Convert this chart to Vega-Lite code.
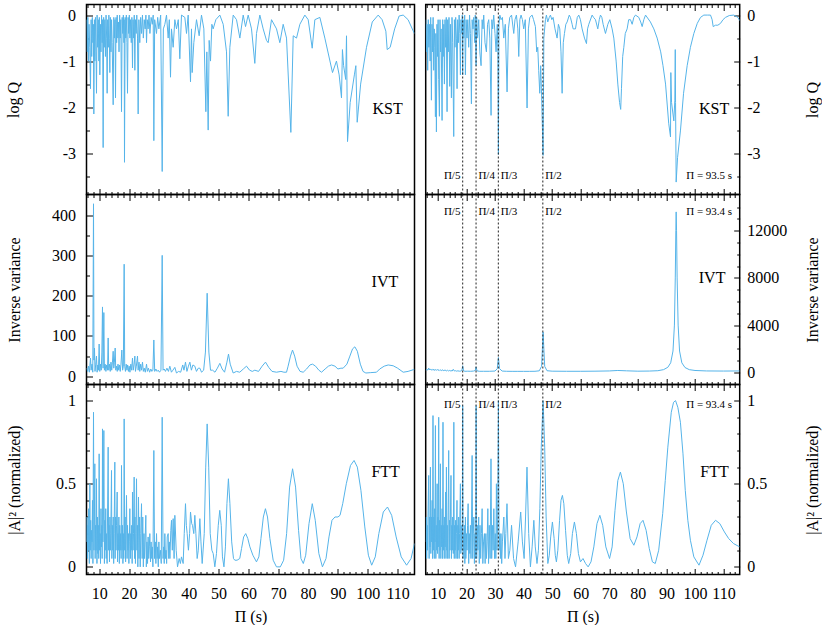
{
"$schema": "https://vega.github.io/schema/vega-lite/v6.json",
"background": "white",
"padding": {"left": 4.5, "top": 2.5, "right": 0, "bottom": 0},
"config": {
  "view": {"stroke": "black", "strokeWidth": 1.5},
  "font": "Liberation Serif",
  "axis": {"labelFont": "Liberation Serif", "titleFont": "Liberation Serif", "labelFontSize": 16, "titleFontSize": 16, "titleFontWeight": "normal", "labelColor": "black", "titleColor": "black", "tickColor": "black", "tickWidth": 1, "domain": false, "grid": false, "minExtent": 0}
},
"datasets": {
"kstL": [{"x":5.8,"y":-0.1},{"x":6.0,"y":-0.8},{"x":6.2,"y":-0.05},{"x":6.4,"y":-1.0},{"x":6.6,"y":-0.2},{"x":6.85,"y":-0.7},{"x":7.09,"y":-1.6},{"x":7.3,"y":-0.1},{"x":7.5,"y":-0.9},{"x":7.7,"y":-0.05},{"x":7.9,"y":-0.6},{"x":8.05,"y":-0.2},{"x":8.21,"y":-2.15},{"x":8.4,"y":-0.1},{"x":8.55,"y":-1.0},{"x":8.75,"y":-0.05},{"x":8.95,"y":-0.8},{"x":9.1,"y":-1.7},{"x":9.3,"y":0},{"x":9.5,"y":-0.7},{"x":9.7,"y":-0.1},{"x":9.9,"y":-1.0},{"x":10.05,"y":-0.05},{"x":10.22,"y":-1.3},{"x":10.4,"y":-0.2},{"x":10.6,"y":-0.8},{"x":10.8,"y":0},{"x":11.0,"y":-0.6},{"x":11.15,"y":-0.1},{"x":11.33,"y":-2.88},{"x":11.5,"y":-0.05},{"x":11.7,"y":-0.7},{"x":11.9,"y":-0.1},{"x":12.1,"y":-0.9},{"x":12.3,"y":0},{"x":12.5,"y":-0.5},{"x":12.67,"y":-1.7},{"x":12.85,"y":-0.1},{"x":13.05,"y":-0.7},{"x":13.25,"y":0},{"x":13.4,"y":-0.5},{"x":13.57,"y":-1.25},{"x":13.75,"y":-0.05},{"x":13.95,"y":-0.8},{"x":14.15,"y":-0.1},{"x":14.35,"y":-0.6},{"x":14.69,"y":-1.95},{"x":14.9,"y":-0.05},{"x":15.1,"y":-0.5},{"x":15.3,"y":-0.1},{"x":15.47,"y":-1.8},{"x":15.65,"y":-0.05},{"x":15.85,"y":-0.6},{"x":16.05,"y":0},{"x":16.25,"y":-0.5},{"x":16.45,"y":-0.15},{"x":16.65,"y":-0.8},{"x":16.85,"y":0},{"x":17.05,"y":-0.5},{"x":17.25,"y":-0.1},{"x":17.48,"y":-2.1},{"x":17.7,"y":-0.05},{"x":17.9,"y":-0.4},{"x":18.1,"y":0},{"x":18.3,"y":-0.6},{"x":18.38,"y":-0.1},{"x":18.48,"y":-3.2},{"x":18.7,"y":-0.05},{"x":18.9,"y":-0.5},{"x":19.1,"y":0},{"x":19.3,"y":-0.6},{"x":19.49,"y":-1.7},{"x":19.7,"y":-0.05},{"x":19.9,"y":-0.4},{"x":20.1,"y":0},{"x":20.3,"y":-0.5},{"x":20.5,"y":-0.1},{"x":20.75,"y":-0.6},{"x":20.95,"y":-0.05},{"x":21.16,"y":-1.15},{"x":21.35,"y":-0.1},{"x":21.55,"y":-0.5},{"x":21.75,"y":0},{"x":21.95,"y":-1.2},{"x":22.15,"y":-0.1},{"x":22.4,"y":-0.4},{"x":22.6,"y":0},{"x":22.84,"y":-0.5},{"x":23.06,"y":-2.15},{"x":23.3,"y":-0.1},{"x":23.6,"y":-0.6},{"x":23.9,"y":-0.05},{"x":24.2,"y":-0.4},{"x":24.5,"y":0},{"x":24.8,"y":-0.5},{"x":25.1,"y":-0.1},{"x":25.4,"y":-0.3},{"x":25.65,"y":0},{"x":25.86,"y":-0.6},{"x":26.1,"y":-0.1},{"x":26.4,"y":-0.3},{"x":26.7,"y":0},{"x":27.0,"y":-0.4},{"x":27.4,"y":-0.05},{"x":27.8,"y":-0.2},{"x":28.1,"y":0},{"x":28.31,"y":-2.73},{"x":28.6,"y":-0.1},{"x":29.2,"y":-0.4},{"x":29.6,"y":-0.05},{"x":30.0,"y":-0.3},{"x":30.6,"y":0},{"x":31.11,"y":-3.4},{"x":31.5,"y":-0.3},{"x":32.0,"y":-0.2},{"x":32.56,"y":0},{"x":33.12,"y":-0.5},{"x":33.5,"y":-0.1},{"x":33.9,"y":-1.35},{"x":34.23,"y":-0.3},{"x":34.79,"y":-0.7},{"x":35.35,"y":-0.1},{"x":35.91,"y":-0.3},{"x":36.5,"y":-0.1},{"x":37.02,"y":-0.95},{"x":37.58,"y":0},{"x":38.7,"y":-0.05},{"x":39.26,"y":-0.4},{"x":39.82,"y":0},{"x":40.6,"y":-1.45},{"x":40.93,"y":-0.3},{"x":41.16,"y":-1.25},{"x":41.71,"y":-0.6},{"x":42.61,"y":-0.1},{"x":43.5,"y":-0.45},{"x":44.28,"y":0},{"x":45.07,"y":-0.3},{"x":45.74,"y":-2.1},{"x":46.07,"y":-0.8},{"x":46.52,"y":-2.5},{"x":46.85,"y":-0.55},{"x":47.3,"y":-1.0},{"x":47.75,"y":-0.2},{"x":48.19,"y":-0.3},{"x":49.09,"y":-0.1},{"x":50.43,"y":0},{"x":51.55,"y":-0.2},{"x":52.66,"y":-0.8},{"x":53.22,"y":-2.2},{"x":53.78,"y":-0.7},{"x":54.9,"y":0},{"x":56.01,"y":-0.1},{"x":57.13,"y":-0.5},{"x":58.25,"y":0},{"x":59.03,"y":-0.25},{"x":59.92,"y":0},{"x":61.04,"y":-0.3},{"x":62.15,"y":-1.05},{"x":62.71,"y":-0.4},{"x":63.83,"y":0},{"x":64.95,"y":-0.3},{"x":66.06,"y":-0.55},{"x":66.62,"y":-0.6},{"x":67.74,"y":-0.1},{"x":69.42,"y":-0.3},{"x":70.53,"y":-0.6},{"x":71.65,"y":-0.2},{"x":72.77,"y":-0.5},{"x":74.22,"y":-2.55},{"x":75.01,"y":-0.45},{"x":76.12,"y":-0.5},{"x":77.24,"y":-0.2},{"x":78.91,"y":0},{"x":80.03,"y":-0.1},{"x":81.37,"y":-0.72},{"x":82.26,"y":-0.1},{"x":83.94,"y":-0.05},{"x":85.61,"y":-0.5},{"x":88.18,"y":-1.25},{"x":89.5,"y":-1.0},{"x":90.4,"y":-1.3},{"x":91.19,"y":-1.8},{"x":91.5,"y":-0.75},{"x":91.9,"y":-1.1},{"x":92.6,"y":-1.4},{"x":92.87,"y":-0.45},{"x":93.21,"y":-2.75},{"x":94.1,"y":-1.9},{"x":95.5,"y":-1.3},{"x":96.0,"y":-1.1},{"x":96.45,"y":-2.33},{"x":97.6,"y":-1.5},{"x":99.57,"y":-0.7},{"x":101.5,"y":-0.15},{"x":103.48,"y":0},{"x":104.8,"y":-0.1},{"x":106.05,"y":-0.35},{"x":106.5,"y":-0.75},{"x":107.5,"y":-0.7},{"x":109.0,"y":-0.3},{"x":110.5,"y":-0.02},{"x":111.86,"y":0},{"x":113.5,"y":-0.1},{"x":115.6,"y":-0.4}],
"kstR": [{"x":5.8,"y":-0.1},{"x":6.0,"y":-0.8},{"x":6.23,"y":-0.2},{"x":6.45,"y":-1.2},{"x":6.65,"y":-0.1},{"x":6.85,"y":-0.7},{"x":7.05,"y":-0.2},{"x":7.3,"y":-1.0},{"x":7.5,"y":-0.05},{"x":7.75,"y":-1.85},{"x":7.95,"y":-0.2},{"x":8.15,"y":-0.8},{"x":8.35,"y":-0.05},{"x":8.55,"y":-1.2},{"x":8.75,"y":-0.3},{"x":8.95,"y":-0.7},{"x":9.15,"y":-2.21},{"x":9.3,"y":-0.4},{"x":9.5,"y":-2.54},{"x":9.7,"y":-0.2},{"x":9.9,"y":-0.9},{"x":10.1,"y":-0.1},{"x":10.3,"y":-1.4},{"x":10.55,"y":-2.2},{"x":10.75,"y":-0.1},{"x":10.95,"y":-0.8},{"x":11.15,"y":-0.3},{"x":11.48,"y":-2.29},{"x":11.7,"y":-0.1},{"x":11.9,"y":-0.9},{"x":12.1,"y":-0.2},{"x":12.3,"y":-1.5},{"x":12.5,"y":-0.1},{"x":12.7,"y":-0.7},{"x":12.95,"y":-0.05},{"x":13.23,"y":-2.1},{"x":13.45,"y":-0.1},{"x":13.65,"y":-0.8},{"x":13.9,"y":-0.05},{"x":14.16,"y":-1.55},{"x":14.4,"y":-0.2},{"x":14.75,"y":-1.8},{"x":14.95,"y":-0.05},{"x":15.2,"y":-0.6},{"x":15.56,"y":-2.64},{"x":15.8,"y":-0.1},{"x":16.0,"y":-0.7},{"x":16.25,"y":-0.05},{"x":16.5,"y":-0.5},{"x":16.73,"y":-1.6},{"x":16.95,"y":-0.1},{"x":17.2,"y":-0.6},{"x":17.45,"y":0},{"x":17.7,"y":-0.4},{"x":17.9,"y":-1.3},{"x":18.1,"y":-0.1},{"x":18.35,"y":-0.4},{"x":18.55,"y":0},{"x":18.7,"y":-1.3},{"x":18.85,"y":-0.1},{"x":19.1,"y":-0.5},{"x":19.4,"y":0},{"x":19.65,"y":-1.3},{"x":19.9,"y":-0.1},{"x":20.2,"y":-0.5},{"x":20.47,"y":-0.1},{"x":20.8,"y":-0.7},{"x":21.1,"y":0},{"x":21.4,"y":-0.4},{"x":21.75,"y":-1.93},{"x":22.0,"y":-0.1},{"x":22.3,"y":-0.3},{"x":22.56,"y":-0.05},{"x":22.9,"y":-0.6},{"x":23.1,"y":0},{"x":23.38,"y":-1.1},{"x":23.6,"y":-0.05},{"x":23.9,"y":-0.5},{"x":24.31,"y":-0.1},{"x":24.7,"y":-0.8},{"x":25.13,"y":-1.1},{"x":25.5,"y":-0.1},{"x":25.8,"y":-0.3},{"x":26.06,"y":0},{"x":26.5,"y":-0.6},{"x":27.0,"y":-0.8},{"x":27.4,"y":-0.2},{"x":27.81,"y":-0.1},{"x":28.2,"y":-0.5},{"x":28.63,"y":-2.18},{"x":28.9,"y":-0.1},{"x":29.2,"y":-0.3},{"x":29.56,"y":0},{"x":30.0,"y":-0.4},{"x":30.38,"y":-0.8},{"x":30.8,"y":-0.2},{"x":31.0,"y":-0.7},{"x":31.2,"y":-3.03},{"x":31.4,"y":-0.2},{"x":31.7,"y":0},{"x":32.13,"y":-0.1},{"x":32.6,"y":-0.05},{"x":33.07,"y":-0.5},{"x":33.6,"y":-0.2},{"x":34.23,"y":-1.67},{"x":34.7,"y":-0.3},{"x":35.17,"y":-0.05},{"x":35.8,"y":0},{"x":36.57,"y":-0.4},{"x":37.0,"y":-0.1},{"x":37.5,"y":0},{"x":38.0,"y":-0.3},{"x":38.32,"y":-0.9},{"x":38.7,"y":-0.1},{"x":39.13,"y":0},{"x":39.6,"y":-0.1},{"x":40.06,"y":-0.3},{"x":40.6,"y":-0.1},{"x":41.23,"y":-2.02},{"x":41.7,"y":-0.3},{"x":42.17,"y":-0.05},{"x":42.99,"y":0},{"x":43.5,"y":-0.1},{"x":44.15,"y":-0.25},{"x":44.6,"y":-0.8},{"x":44.97,"y":-0.7},{"x":45.3,"y":-1.2},{"x":45.67,"y":-1.7},{"x":46.0,"y":-1.1},{"x":46.25,"y":-1.6},{"x":46.84,"y":-3.05},{"x":47.1,"y":-0.5},{"x":47.66,"y":-0.1},{"x":48.0,"y":0},{"x":48.47,"y":-0.15},{"x":49.0,"y":-0.05},{"x":49.41,"y":0},{"x":49.9,"y":-0.1},{"x":50.34,"y":-0.05},{"x":51.0,"y":-0.3},{"x":51.74,"y":-0.5},{"x":52.2,"y":-0.2},{"x":52.68,"y":-0.3},{"x":53.1,"y":-0.8},{"x":53.5,"y":-1.7},{"x":53.9,"y":-0.6},{"x":54.31,"y":-0.4},{"x":54.8,"y":-0.2},{"x":55.25,"y":-0.15},{"x":56.0,"y":0},{"x":56.41,"y":-0.05},{"x":57.0,"y":-0.2},{"x":57.35,"y":-0.3},{"x":58.17,"y":-0.3},{"x":58.8,"y":-0.05},{"x":59.33,"y":0},{"x":59.9,"y":-0.1},{"x":60.5,"y":-0.3},{"x":61.32,"y":-0.5},{"x":62.02,"y":-0.62},{"x":62.4,"y":-0.3},{"x":62.83,"y":-0.2},{"x":64.0,"y":0},{"x":64.5,"y":-0.05},{"x":65.17,"y":-0.1},{"x":65.98,"y":-0.3},{"x":66.5,"y":-0.1},{"x":66.92,"y":0},{"x":67.4,"y":-0.05},{"x":67.85,"y":-0.2},{"x":68.67,"y":-0.4},{"x":69.5,"y":-0.2},{"x":70.19,"y":-0.1},{"x":71.0,"y":-0.3},{"x":71.59,"y":-0.5},{"x":72.4,"y":-1.0},{"x":72.99,"y":-1.5},{"x":73.6,"y":-1.9},{"x":74.0,"y":-2.05},{"x":74.27,"y":-1.6},{"x":74.7,"y":-0.9},{"x":75.09,"y":-0.7},{"x":75.6,"y":-0.4},{"x":76.25,"y":-0.3},{"x":76.8,"y":-0.1},{"x":77.42,"y":-0.1},{"x":78.01,"y":-0.2},{"x":78.6,"y":-0.05},{"x":79.17,"y":0},{"x":80.34,"y":-0.05},{"x":81.0,"y":-0.15},{"x":81.51,"y":-0.25},{"x":82.09,"y":-0.1},{"x":82.7,"y":0},{"x":84.4,"y":-0.15},{"x":85.6,"y":-0.3},{"x":86.76,"y":-0.5},{"x":88.0,"y":-0.8},{"x":88.8,"y":-1.1},{"x":89.7,"y":-1.5},{"x":90.8,"y":-2.35},{"x":91.43,"y":-2.65},{"x":91.55,"y":-1.25},{"x":91.8,"y":-1.9},{"x":92.6,"y":-2.3},{"x":92.94,"y":-1.85},{"x":93.1,"y":-0.75},{"x":93.2,"y":-1.9},{"x":93.41,"y":-3.63},{"x":93.9,"y":-3.1},{"x":94.93,"y":-2.5},{"x":96.0,"y":-1.7},{"x":97.26,"y":-1.1},{"x":98.4,"y":-0.7},{"x":99.6,"y":-0.4},{"x":100.8,"y":-0.18},{"x":101.93,"y":-0.05},{"x":103.1,"y":0},{"x":104.3,"y":0},{"x":105.43,"y":0},{"x":106.0,"y":-0.1},{"x":106.37,"y":-0.25},{"x":107.18,"y":-0.22},{"x":108.0,"y":-0.22},{"x":108.93,"y":-0.18},{"x":109.8,"y":-0.1},{"x":110.68,"y":-0.05},{"x":112.0,"y":-0.01},{"x":113.6,"y":0},{"x":115.0,"y":-0.05},{"x":115.65,"y":-0.12}],
"ivtL": [{"x":5.8,"y":20},{"x":6.1,"y":12},{"x":6.4,"y":25},{"x":6.7,"y":10},{"x":7.09,"y":45},{"x":7.3,"y":15},{"x":7.6,"y":30},{"x":7.85,"y":10},{"x":8.1,"y":428},{"x":8.25,"y":40},{"x":8.43,"y":70},{"x":8.6,"y":12},{"x":8.85,"y":30},{"x":9.1,"y":50},{"x":9.3,"y":10},{"x":9.55,"y":28},{"x":9.75,"y":15},{"x":9.99,"y":80},{"x":10.2,"y":12},{"x":10.45,"y":30},{"x":10.7,"y":15},{"x":10.9,"y":60},{"x":11.11,"y":172},{"x":11.3,"y":20},{"x":11.56,"y":158},{"x":11.75,"y":15},{"x":12.0,"y":30},{"x":12.25,"y":12},{"x":12.5,"y":28},{"x":12.8,"y":15},{"x":13.01,"y":95},{"x":13.2,"y":15},{"x":13.45,"y":30},{"x":13.7,"y":12},{"x":13.95,"y":35},{"x":14.2,"y":15},{"x":14.45,"y":35},{"x":14.69,"y":62},{"x":14.9,"y":20},{"x":15.1,"y":35},{"x":15.36,"y":70},{"x":15.55,"y":15},{"x":15.8,"y":25},{"x":16.05,"y":12},{"x":16.3,"y":30},{"x":16.55,"y":15},{"x":16.8,"y":28},{"x":17.05,"y":12},{"x":17.3,"y":30},{"x":17.59,"y":65},{"x":17.85,"y":15},{"x":18.1,"y":25},{"x":18.37,"y":278},{"x":18.55,"y":25},{"x":18.8,"y":12},{"x":19.05,"y":30},{"x":19.3,"y":15},{"x":19.55,"y":28},{"x":19.8,"y":12},{"x":20.05,"y":25},{"x":20.3,"y":10},{"x":20.6,"y":30},{"x":20.85,"y":15},{"x":21.16,"y":45},{"x":21.4,"y":15},{"x":21.7,"y":30},{"x":21.95,"y":50},{"x":22.15,"y":12},{"x":22.45,"y":25},{"x":22.84,"y":50},{"x":23.05,"y":15},{"x":23.35,"y":35},{"x":23.6,"y":12},{"x":23.9,"y":30},{"x":24.2,"y":15},{"x":24.51,"y":35},{"x":24.8,"y":12},{"x":25.1,"y":20},{"x":25.45,"y":10},{"x":25.86,"y":30},{"x":26.15,"y":12},{"x":26.5,"y":20},{"x":26.9,"y":10},{"x":27.3,"y":18},{"x":27.65,"y":12},{"x":28.0,"y":15},{"x":28.31,"y":90},{"x":28.6,"y":12},{"x":29.0,"y":18},{"x":29.4,"y":12},{"x":29.8,"y":15},{"x":30.2,"y":10},{"x":30.7,"y":15},{"x":31.11,"y":300},{"x":31.4,"y":15},{"x":31.8,"y":18},{"x":32.2,"y":12},{"x":32.7,"y":20},{"x":33.2,"y":12},{"x":33.67,"y":25},{"x":34.2,"y":10},{"x":34.7,"y":15},{"x":35.35,"y":22},{"x":35.9,"y":8},{"x":36.6,"y":12},{"x":37.3,"y":10},{"x":38.0,"y":28},{"x":38.4,"y":15},{"x":38.92,"y":35},{"x":39.4,"y":12},{"x":39.9,"y":25},{"x":40.38,"y":35},{"x":40.9,"y":15},{"x":41.4,"y":28},{"x":42.05,"y":25},{"x":42.6,"y":12},{"x":43.2,"y":20},{"x":43.73,"y":20},{"x":44.3,"y":10},{"x":45.0,"y":15},{"x":45.6,"y":60},{"x":46.18,"y":206},{"x":46.75,"y":60},{"x":47.3,"y":15},{"x":48.0,"y":15},{"x":48.8,"y":10},{"x":49.6,"y":20},{"x":50.43,"y":32},{"x":51.2,"y":18},{"x":52.0,"y":10},{"x":52.8,"y":35},{"x":53.33,"y":55},{"x":53.9,"y":30},{"x":54.9,"y":8},{"x":56.0,"y":12},{"x":57.1,"y":10},{"x":58.3,"y":18},{"x":59.36,"y":25},{"x":60.4,"y":15},{"x":61.3,"y":12},{"x":62.15,"y":15},{"x":63.4,"y":12},{"x":64.6,"y":25},{"x":65.73,"y":35},{"x":66.8,"y":22},{"x":67.9,"y":12},{"x":69.42,"y":10},{"x":70.9,"y":12},{"x":71.9,"y":10},{"x":72.77,"y":10},{"x":73.3,"y":25},{"x":74.1,"y":50},{"x":74.78,"y":65},{"x":75.5,"y":50},{"x":76.3,"y":25},{"x":77.3,"y":12},{"x":78.36,"y":10},{"x":79.5,"y":18},{"x":80.6,"y":28},{"x":81.48,"y":30},{"x":82.5,"y":25},{"x":83.6,"y":15},{"x":84.5,"y":10},{"x":85.7,"y":18},{"x":86.8,"y":25},{"x":87.85,"y":28},{"x":89.0,"y":25},{"x":90.0,"y":18},{"x":91.0,"y":20},{"x":91.75,"y":20},{"x":93.0,"y":30},{"x":94.0,"y":50},{"x":94.9,"y":68},{"x":95.67,"y":73},{"x":96.5,"y":62},{"x":97.5,"y":30},{"x":98.4,"y":12},{"x":99.35,"y":8},{"x":101.0,"y":9},{"x":102.92,"y":10},{"x":104.0,"y":18},{"x":105.5,"y":25},{"x":106.83,"y":28},{"x":108.5,"y":26},{"x":110.0,"y":20},{"x":111.86,"y":10},{"x":113.5,"y":12},{"x":115.6,"y":17}],
"ivtR": [{"x":5.75,"y":150},{"x":6.2,"y":250},{"x":6.5,"y":180},{"x":6.8,"y":350},{"x":7.1,"y":200},{"x":7.4,"y":280},{"x":7.7,"y":180},{"x":8.0,"y":250},{"x":8.3,"y":170},{"x":8.6,"y":260},{"x":8.9,"y":150},{"x":9.2,"y":230},{"x":9.5,"y":160},{"x":9.8,"y":240},{"x":10.1,"y":150},{"x":10.4,"y":220},{"x":10.7,"y":140},{"x":11.0,"y":200},{"x":11.3,"y":130},{"x":11.6,"y":220},{"x":11.9,"y":120},{"x":12.2,"y":190},{"x":12.5,"y":120},{"x":12.8,"y":180},{"x":13.1,"y":110},{"x":13.4,"y":170},{"x":13.7,"y":110},{"x":14.0,"y":160},{"x":14.3,"y":100},{"x":14.6,"y":150},{"x":15.0,"y":100},{"x":15.4,"y":250},{"x":15.8,"y":100},{"x":16.2,"y":130},{"x":16.6,"y":90},{"x":17.0,"y":120},{"x":17.5,"y":90},{"x":18.0,"y":100},{"x":18.4,"y":150},{"x":18.7,"y":550},{"x":19.0,"y":120},{"x":19.5,"y":80},{"x":20.5,"y":90},{"x":21.5,"y":80},{"x":22.5,"y":100},{"x":23.1,"y":150},{"x":23.38,"y":450},{"x":23.7,"y":120},{"x":24.5,"y":80},{"x":26,"y":80},{"x":28,"y":80},{"x":30.0,"y":100},{"x":30.8,"y":300},{"x":31.2,"y":1250},{"x":31.6,"y":300},{"x":32.5,"y":100},{"x":34,"y":80},{"x":36,"y":75},{"x":38,"y":75},{"x":40,"y":75},{"x":42,"y":75},{"x":44,"y":80},{"x":45.5,"y":120},{"x":46.3,"y":500},{"x":46.6,"y":2000},{"x":46.84,"y":3400},{"x":47.1,"y":2000},{"x":47.4,"y":500},{"x":48.2,"y":130},{"x":50,"y":90},{"x":55,"y":80},{"x":60,"y":80},{"x":65,"y":90},{"x":70,"y":110},{"x":73,"y":150},{"x":76,"y":120},{"x":80,"y":90},{"x":84,"y":100},{"x":87,"y":130},{"x":89,"y":220},{"x":90.5,"y":420},{"x":91.5,"y":800},{"x":92.3,"y":1800},{"x":92.8,"y":4000},{"x":93.1,"y":8000},{"x":93.3,"y":12000},{"x":93.41,"y":13600},{"x":93.55,"y":12000},{"x":93.75,"y":8000},{"x":94.1,"y":4000},{"x":94.6,"y":1800},{"x":95.4,"y":800},{"x":96.5,"y":400},{"x":98,"y":220},{"x":100,"y":150},{"x":104,"y":110},{"x":110,"y":100},{"x":115.65,"y":110}],
"fttL": [{"x":5.75,"y":0.15},{"x":5.9,"y":0.3},{"x":6.05,"y":0.05},{"x":6.2,"y":0.25},{"x":6.35,"y":0.1},{"x":6.5,"y":0.35},{"x":6.7,"y":0.02},{"x":6.87,"y":0.5},{"x":7.0,"y":0.1},{"x":7.15,"y":0.28},{"x":7.3,"y":0.05},{"x":7.45,"y":0.22},{"x":7.6,"y":0.15},{"x":7.75,"y":0.4},{"x":7.9,"y":0.02},{"x":8.1,"y":0.93},{"x":8.25,"y":0.1},{"x":8.4,"y":0.3},{"x":8.54,"y":0.62},{"x":8.65,"y":0.05},{"x":8.8,"y":0.25},{"x":8.95,"y":0.1},{"x":9.1,"y":0.53},{"x":9.25,"y":0.02},{"x":9.4,"y":0.3},{"x":9.55,"y":0.08},{"x":9.7,"y":0.25},{"x":9.85,"y":0.05},{"x":9.99,"y":0.68},{"x":10.15,"y":0.1},{"x":10.3,"y":0.2},{"x":10.45,"y":0.02},{"x":10.6,"y":0.35},{"x":10.75,"y":0.12},{"x":10.9,"y":0.25},{"x":11.0,"y":0.05},{"x":11.11,"y":0.83},{"x":11.25,"y":0.15},{"x":11.4,"y":0.3},{"x":11.56,"y":0.82},{"x":11.75,"y":0.02},{"x":11.9,"y":0.28},{"x":12.05,"y":0.1},{"x":12.2,"y":0.35},{"x":12.35,"y":0.05},{"x":12.5,"y":0.2},{"x":12.65,"y":0.02},{"x":12.8,"y":0.3},{"x":13.01,"y":0.72},{"x":13.15,"y":0.1},{"x":13.3,"y":0.25},{"x":13.45,"y":0.03},{"x":13.6,"y":0.3},{"x":13.75,"y":0.1},{"x":13.9,"y":0.2},{"x":14.13,"y":0.58},{"x":14.25,"y":0.05},{"x":14.4,"y":0.25},{"x":14.55,"y":0.1},{"x":14.7,"y":0.3},{"x":14.85,"y":0.02},{"x":15.0,"y":0.2},{"x":15.24,"y":0.63},{"x":15.35,"y":0.05},{"x":15.5,"y":0.3},{"x":15.65,"y":0.1},{"x":15.8,"y":0.25},{"x":16.03,"y":0.45},{"x":16.15,"y":0.03},{"x":16.3,"y":0.2},{"x":16.45,"y":0.1},{"x":16.6,"y":0.3},{"x":16.75,"y":0.02},{"x":16.9,"y":0.25},{"x":17.05,"y":0.1},{"x":17.2,"y":0.2},{"x":17.35,"y":0.05},{"x":17.48,"y":0.61},{"x":17.65,"y":0.1},{"x":17.8,"y":0.25},{"x":17.95,"y":0.02},{"x":18.1,"y":0.2},{"x":18.25,"y":0.05},{"x":18.37,"y":0.89},{"x":18.55,"y":0.1},{"x":18.7,"y":0.3},{"x":18.85,"y":0.03},{"x":19.0,"y":0.2},{"x":19.15,"y":0.43},{"x":19.35,"y":0.05},{"x":19.5,"y":0.25},{"x":19.65,"y":0.1},{"x":19.8,"y":0.2},{"x":19.95,"y":0.02},{"x":20.1,"y":0.15},{"x":20.27,"y":0.35},{"x":20.45,"y":0.05},{"x":20.6,"y":0.2},{"x":20.75,"y":0.1},{"x":20.9,"y":0.25},{"x":21.05,"y":0.02},{"x":21.16,"y":0.45},{"x":21.35,"y":0.1},{"x":21.5,"y":0.2},{"x":21.72,"y":0.54},{"x":21.85,"y":0.05},{"x":22.0,"y":0.3},{"x":22.15,"y":0.02},{"x":22.3,"y":0.2},{"x":22.51,"y":0.53},{"x":22.65,"y":0.1},{"x":22.8,"y":0.25},{"x":22.95,"y":0.0},{"x":23.17,"y":0.42},{"x":23.35,"y":0.05},{"x":23.55,"y":0.3},{"x":23.75,"y":0.0},{"x":23.95,"y":0.2},{"x":24.18,"y":0.38},{"x":24.4,"y":0.05},{"x":24.6,"y":0.3},{"x":24.8,"y":0.0},{"x":25.0,"y":0.2},{"x":25.2,"y":0.05},{"x":25.63,"y":0.31},{"x":25.8,"y":0.0},{"x":26.0,"y":0.15},{"x":26.2,"y":0.02},{"x":26.4,"y":0.18},{"x":26.6,"y":0.05},{"x":26.8,"y":0.12},{"x":26.97,"y":0.2},{"x":27.2,"y":0.03},{"x":27.4,"y":0.15},{"x":27.6,"y":0.05},{"x":27.8,"y":0.12},{"x":28.0,"y":0.0},{"x":28.31,"y":0.7},{"x":28.55,"y":0.05},{"x":28.8,"y":0.15},{"x":29.0,"y":0.02},{"x":29.21,"y":0.2},{"x":29.4,"y":0.05},{"x":29.6,"y":0.12},{"x":29.8,"y":0.0},{"x":30.0,"y":0.15},{"x":30.2,"y":0.05},{"x":30.5,"y":0.1},{"x":30.8,"y":0.02},{"x":31.11,"y":0.9},{"x":31.4,"y":0.05},{"x":31.6,"y":0.12},{"x":31.8,"y":0.02},{"x":32.0,"y":0.2},{"x":32.2,"y":0.05},{"x":32.4,"y":0.1},{"x":32.6,"y":0.02},{"x":32.8,"y":0.18},{"x":33.12,"y":0.2},{"x":33.3,"y":0.05},{"x":33.5,"y":0.15},{"x":33.7,"y":0.05},{"x":34.0,"y":0.22},{"x":34.23,"y":0.28},{"x":34.5,"y":0.1},{"x":34.79,"y":0.29},{"x":35.1,"y":0.05},{"x":35.35,"y":0.31},{"x":35.8,"y":0.1},{"x":36.25,"y":0.0},{"x":36.8,"y":0.05},{"x":37.2,"y":0.02},{"x":37.58,"y":0.06},{"x":38.14,"y":0.02},{"x":38.5,"y":0.2},{"x":38.92,"y":0.38},{"x":39.2,"y":0.25},{"x":39.48,"y":0.2},{"x":39.9,"y":0.1},{"x":40.3,"y":0.2},{"x":40.6,"y":0.33},{"x":41.0,"y":0.26},{"x":41.27,"y":0.25},{"x":41.7,"y":0.2},{"x":42.05,"y":0.31},{"x":42.4,"y":0.2},{"x":42.83,"y":0.05},{"x":43.2,"y":0.1},{"x":43.73,"y":0.29},{"x":44.1,"y":0.15},{"x":44.51,"y":0.02},{"x":45.2,"y":0.2},{"x":45.7,"y":0.6},{"x":46.18,"y":0.86},{"x":46.7,"y":0.6},{"x":47.2,"y":0.2},{"x":47.75,"y":0.1},{"x":48.2,"y":0.08},{"x":48.75,"y":0.0},{"x":49.3,"y":0.08},{"x":49.9,"y":0.25},{"x":50.4,"y":0.34},{"x":50.9,"y":0.25},{"x":51.3,"y":0.06},{"x":51.8,"y":0.0},{"x":52.3,"y":0.12},{"x":52.8,"y":0.38},{"x":53.3,"y":0.53},{"x":53.8,"y":0.38},{"x":54.4,"y":0.15},{"x":55.0,"y":0.05},{"x":55.45,"y":0.04},{"x":56.2,"y":0.04},{"x":57.1,"y":0.05},{"x":57.7,"y":0.11},{"x":58.4,"y":0.18},{"x":59.1,"y":0.2},{"x":59.8,"y":0.17},{"x":60.5,"y":0.12},{"x":61.5,"y":0.07},{"x":62.7,"y":0.03},{"x":63.5,"y":0.06},{"x":64.2,"y":0.17},{"x":65.0,"y":0.3},{"x":65.7,"y":0.35},{"x":66.4,"y":0.3},{"x":67.2,"y":0.17},{"x":68.3,"y":0.04},{"x":69.4,"y":0.0},{"x":70.7,"y":0.0},{"x":71.8,"y":0.04},{"x":72.8,"y":0.2},{"x":73.8,"y":0.48},{"x":74.8,"y":0.59},{"x":75.8,"y":0.48},{"x":76.8,"y":0.22},{"x":77.6,"y":0.05},{"x":78.4,"y":0.02},{"x":79.2,"y":0.07},{"x":80.3,"y":0.26},{"x":81.4,"y":0.38},{"x":82.4,"y":0.28},{"x":83.6,"y":0.08},{"x":84.8,"y":0.0},{"x":86.0,"y":0.05},{"x":87.0,"y":0.18},{"x":88.0,"y":0.28},{"x":89.0,"y":0.3},{"x":90.0,"y":0.3},{"x":90.7,"y":0.31},{"x":91.6,"y":0.38},{"x":92.8,"y":0.5},{"x":94.2,"y":0.61},{"x":95.4,"y":0.64},{"x":96.5,"y":0.6},{"x":97.7,"y":0.46},{"x":99.0,"y":0.24},{"x":100.2,"y":0.07},{"x":101.3,"y":0.01},{"x":102.5,"y":0.06},{"x":103.7,"y":0.2},{"x":105.2,"y":0.33},{"x":106.6,"y":0.36},{"x":108.0,"y":0.31},{"x":109.5,"y":0.18},{"x":111.2,"y":0.06},{"x":113.0,"y":0.01},{"x":114.5,"y":0.05},{"x":115.65,"y":0.14}],
"fttR": [{"x":5.8,"y":0.15},{"x":5.95,"y":0.3},{"x":6.1,"y":0.05},{"x":6.25,"y":0.25},{"x":6.4,"y":0.1},{"x":6.55,"y":0.3},{"x":6.8,"y":0.55},{"x":6.95,"y":0.05},{"x":7.1,"y":0.3},{"x":7.25,"y":0.12},{"x":7.4,"y":0.6},{"x":7.55,"y":0.08},{"x":7.7,"y":0.3},{"x":7.85,"y":0.15},{"x":8.0,"y":0.4},{"x":8.15,"y":0.05},{"x":8.3,"y":0.91},{"x":8.45,"y":0.1},{"x":8.6,"y":0.3},{"x":8.75,"y":0.05},{"x":8.9,"y":0.35},{"x":9.0,"y":0.15},{"x":9.15,"y":0.85},{"x":9.3,"y":0.05},{"x":9.45,"y":0.25},{"x":9.6,"y":0.1},{"x":9.75,"y":0.5},{"x":9.9,"y":0.08},{"x":10.05,"y":0.3},{"x":10.15,"y":0.12},{"x":10.3,"y":0.9},{"x":10.45,"y":0.05},{"x":10.6,"y":0.28},{"x":10.75,"y":0.1},{"x":10.9,"y":0.62},{"x":11.05,"y":0.05},{"x":11.2,"y":0.25},{"x":11.35,"y":0.12},{"x":11.5,"y":0.35},{"x":11.65,"y":0.05},{"x":11.8,"y":0.87},{"x":11.95,"y":0.1},{"x":12.1,"y":0.25},{"x":12.25,"y":0.05},{"x":12.4,"y":0.3},{"x":12.55,"y":0.12},{"x":12.7,"y":0.45},{"x":12.85,"y":0.05},{"x":13.0,"y":0.6},{"x":13.15,"y":0.1},{"x":13.3,"y":0.25},{"x":13.45,"y":0.05},{"x":13.6,"y":0.3},{"x":13.8,"y":0.7},{"x":13.95,"y":0.05},{"x":14.1,"y":0.28},{"x":14.25,"y":0.1},{"x":14.4,"y":0.3},{"x":14.6,"y":0.55},{"x":14.75,"y":0.05},{"x":14.9,"y":0.25},{"x":15.05,"y":0.1},{"x":15.2,"y":0.3},{"x":15.4,"y":0.08},{"x":15.6,"y":0.87},{"x":15.75,"y":0.05},{"x":15.9,"y":0.25},{"x":16.05,"y":0.1},{"x":16.2,"y":0.28},{"x":16.35,"y":0.05},{"x":16.5,"y":0.2},{"x":16.7,"y":0.4},{"x":16.85,"y":0.05},{"x":17.0,"y":0.25},{"x":17.15,"y":0.1},{"x":17.3,"y":0.3},{"x":17.45,"y":0.05},{"x":17.6,"y":0.2},{"x":17.9,"y":0.5},{"x":18.05,"y":0.08},{"x":18.2,"y":0.25},{"x":18.35,"y":0.1},{"x":18.55,"y":0.2},{"x":18.7,"y":0.97},{"x":18.85,"y":0.05},{"x":19.0,"y":0.2},{"x":19.15,"y":0.1},{"x":19.3,"y":0.25},{"x":19.45,"y":0.02},{"x":19.65,"y":0.3},{"x":19.8,"y":0.05},{"x":20.0,"y":0.2},{"x":20.2,"y":0.1},{"x":20.4,"y":0.25},{"x":20.6,"y":0.38},{"x":20.8,"y":0.02},{"x":21.0,"y":0.2},{"x":21.2,"y":0.08},{"x":21.4,"y":0.25},{"x":21.6,"y":0.05},{"x":21.8,"y":0.3},{"x":22.0,"y":0.67},{"x":22.2,"y":0.05},{"x":22.4,"y":0.2},{"x":22.6,"y":0.3},{"x":22.8,"y":0.02},{"x":23.0,"y":0.2},{"x":23.2,"y":0.05},{"x":23.4,"y":0.97},{"x":23.6,"y":0.05},{"x":23.8,"y":0.25},{"x":24.0,"y":0.1},{"x":24.3,"y":0.3},{"x":24.5,"y":0.02},{"x":24.75,"y":0.25},{"x":25.0,"y":0.05},{"x":25.25,"y":0.2},{"x":25.5,"y":0.35},{"x":25.75,"y":0.02},{"x":26.0,"y":0.15},{"x":26.3,"y":0.2},{"x":26.55,"y":0.02},{"x":26.8,"y":0.2},{"x":27.0,"y":0.05},{"x":27.25,"y":0.15},{"x":27.5,"y":0.35},{"x":27.75,"y":0.02},{"x":28.0,"y":0.25},{"x":28.3,"y":0.05},{"x":28.6,"y":0.65},{"x":28.85,"y":0.05},{"x":29.1,"y":0.25},{"x":29.35,"y":0.1},{"x":29.6,"y":0.35},{"x":29.85,"y":0.05},{"x":30.1,"y":0.2},{"x":30.3,"y":0.05},{"x":30.5,"y":0.5},{"x":30.7,"y":0.1},{"x":30.95,"y":0.3},{"x":31.2,"y":1.0},{"x":31.45,"y":0.1},{"x":31.7,"y":0.2},{"x":31.9,"y":0.05},{"x":32.1,"y":0.2},{"x":32.35,"y":0.02},{"x":32.6,"y":0.15},{"x":33.1,"y":0.3},{"x":33.5,"y":0.05},{"x":33.8,"y":0.2},{"x":34.2,"y":0.38},{"x":34.7,"y":0.05},{"x":35.2,"y":0.1},{"x":35.8,"y":0.25},{"x":36.5,"y":0.05},{"x":37.2,"y":0.0},{"x":38.1,"y":0.15},{"x":39.0,"y":0.33},{"x":39.6,"y":0.15},{"x":40.2,"y":0.05},{"x":40.7,"y":0.3},{"x":41.2,"y":0.6},{"x":41.8,"y":0.2},{"x":42.4,"y":0.0},{"x":43.0,"y":0.12},{"x":43.6,"y":0.28},{"x":44.1,"y":0.12},{"x":44.7,"y":0.02},{"x":45.2,"y":0.1},{"x":45.7,"y":0.35},{"x":46.2,"y":0.72},{"x":46.84,"y":1.0},{"x":47.4,"y":0.72},{"x":47.9,"y":0.3},{"x":48.5,"y":0.02},{"x":49.0,"y":0.07},{"x":49.5,"y":0.18},{"x":50.1,"y":0.27},{"x":50.7,"y":0.17},{"x":51.1,"y":0.07},{"x":51.5,"y":0.03},{"x":52.0,"y":0.1},{"x":52.6,"y":0.28},{"x":53.1,"y":0.4},{"x":53.6,"y":0.43},{"x":54.1,"y":0.38},{"x":54.7,"y":0.22},{"x":55.3,"y":0.07},{"x":55.8,"y":0.02},{"x":56.5,"y":0.08},{"x":57.1,"y":0.2},{"x":57.8,"y":0.27},{"x":58.5,"y":0.2},{"x":59.2,"y":0.08},{"x":59.9,"y":0.03},{"x":60.8,"y":0.05},{"x":61.7,"y":0.02},{"x":62.6,"y":0.0},{"x":63.6,"y":0.03},{"x":64.6,"y":0.12},{"x":65.7,"y":0.26},{"x":66.7,"y":0.31},{"x":67.7,"y":0.25},{"x":68.8,"y":0.12},{"x":70.1,"y":0.05},{"x":71.0,"y":0.12},{"x":72.0,"y":0.34},{"x":73.0,"y":0.52},{"x":73.9,"y":0.57},{"x":74.9,"y":0.5},{"x":76.0,"y":0.33},{"x":77.3,"y":0.17},{"x":78.6,"y":0.13},{"x":79.7,"y":0.18},{"x":80.8,"y":0.26},{"x":81.8,"y":0.28},{"x":82.9,"y":0.22},{"x":84.0,"y":0.11},{"x":85.1,"y":0.03},{"x":86.1,"y":0.02},{"x":87.3,"y":0.1},{"x":88.7,"y":0.32},{"x":89.6,"y":0.52},{"x":90.5,"y":0.72},{"x":91.7,"y":0.93},{"x":92.5,"y":0.99},{"x":93.2,"y":1.0},{"x":94.0,"y":0.96},{"x":94.9,"y":0.87},{"x":95.8,"y":0.68},{"x":96.6,"y":0.46},{"x":97.5,"y":0.28},{"x":98.4,"y":0.16},{"x":99.6,"y":0.06},{"x":101.4,"y":0.01},{"x":102.8,"y":0.07},{"x":104.2,"y":0.16},{"x":105.7,"y":0.25},{"x":107.2,"y":0.28},{"x":108.7,"y":0.26},{"x":110.3,"y":0.21},{"x":111.8,"y":0.17},{"x":113.5,"y":0.14},{"x":115.65,"y":0.12}],
"rules": [{"x":18.7},{"x":23.375},{"x":31.167},{"x":46.75}]
},
"spacing": 9.2,
"hconcat": [
 {"spacing": 0, "bounds": "flush", "vconcat": [
  {"width": 328, "height": 190, "resolve": {"axis": {"x": "independent", "y": "independent"}}, "layer": [
   {"data": {"name": "kstL"}, "mark": {"type": "line", "color": "#56B4E9", "strokeWidth": 1, "clip": true},
    "encoding": {
     "x": {"field": "x", "type": "quantitative", "scale": {"domain": [5.75, 115.65], "nice": false, "zero": false},
      "axis": {"orient": "bottom", "values": [6,8,10,12,14,16,18,20,22,24,26,28,30,32,34,36,38,40,42,44,46,48,50,52,54,56,58,60,62,64,66,68,70,72,74,76,78,80,82,84,86,88,90,92,94,96,98,100,102,104,106,108,110,112,114], "labels": false, "title": null, "maxExtent": 0, "tickSize": {"condition": {"test": "datum.value % 10 === 0", "value": -6}, "value": -3}}},
     "y": {"field": "y", "type": "quantitative", "scale": {"domain": [-3.9, 0.23], "nice": false, "zero": false},
      "axis": {"orient": "left", "values": [-3.5,-3,-2.5,-2,-1.5,-1,-0.5,0], "labelExpr": "datum.value % 1 === 0 ? (datum.value < 0 ? '-' + abs(datum.value) : '0') : ''", "labelOverlap": false, "labelPadding": 17, "tickSize": {"condition": {"test": "datum.value % 1 === 0", "value": -6}, "value": -3}, "title": "log Q", "titleX": -73, "titleAngle": 270, "titleBaseline": "middle"}}
    }},
   {"data": {"values": [{"x": 111.7, "y": -2.05, "t": "KST"}]}, "mark": {"type": "text", "align": "right", "baseline": "middle", "fontSize": 16, "font": "Liberation Serif", "color": "black"},
    "encoding": {
     "x": {"field": "x", "type": "quantitative", "axis": {"orient": "top", "values": [6,8,10,12,14,16,18,20,22,24,26,28,30,32,34,36,38,40,42,44,46,48,50,52,54,56,58,60,62,64,66,68,70,72,74,76,78,80,82,84,86,88,90,92,94,96,98,100,102,104,106,108,110,112,114], "labels": false, "title": null, "maxExtent": 0, "tickSize": {"condition": {"test": "datum.value % 10 === 0", "value": -6}, "value": -3}}},
     "y": {"field": "y", "type": "quantitative", "axis": null},
     "text": {"field": "t"}
    }}
  ]},
  {"width": 328, "height": 190, "resolve": {"axis": {"x": "independent", "y": "independent"}}, "layer": [
   {"data": {"name": "ivtL"}, "mark": {"type": "line", "color": "#56B4E9", "strokeWidth": 1, "clip": true},
    "encoding": {
     "x": {"field": "x", "type": "quantitative", "scale": {"domain": [5.75, 115.65], "nice": false, "zero": false},
      "axis": {"orient": "bottom", "values": [6,8,10,12,14,16,18,20,22,24,26,28,30,32,34,36,38,40,42,44,46,48,50,52,54,56,58,60,62,64,66,68,70,72,74,76,78,80,82,84,86,88,90,92,94,96,98,100,102,104,106,108,110,112,114], "labels": false, "title": null, "maxExtent": 0, "tickSize": {"condition": {"test": "datum.value % 10 === 0", "value": -6}, "value": -3}}},
     "y": {"field": "y", "type": "quantitative", "scale": {"domain": [-20.5, 451], "nice": false, "zero": false},
      "axis": {"orient": "left", "values": [0,50,100,150,200,250,300,350,400], "labelExpr": "datum.value % 100 === 0 ? '' + datum.value : ''", "labelOverlap": false, "labelPadding": 17, "tickSize": {"condition": {"test": "datum.value % 100 === 0", "value": -6}, "value": -3}, "title": "Inverse variance", "titleX": -72, "titleAngle": 270, "titleBaseline": "middle"}}
    }},
   {"data": {"values": [{"x": 110.2, "y": 233, "t": "IVT"}]}, "mark": {"type": "text", "align": "right", "baseline": "middle", "fontSize": 16, "font": "Liberation Serif", "color": "black"},
    "encoding": {
     "x": {"field": "x", "type": "quantitative", "axis": {"orient": "top", "values": [6,8,10,12,14,16,18,20,22,24,26,28,30,32,34,36,38,40,42,44,46,48,50,52,54,56,58,60,62,64,66,68,70,72,74,76,78,80,82,84,86,88,90,92,94,96,98,100,102,104,106,108,110,112,114], "labels": false, "title": null, "maxExtent": 0, "tickSize": {"condition": {"test": "datum.value % 10 === 0", "value": -6}, "value": -3}}},
     "y": {"field": "y", "type": "quantitative", "axis": null},
     "text": {"field": "t"}
    }}
  ]},
  {"width": 328, "height": 190, "resolve": {"axis": {"x": "independent", "y": "independent"}}, "layer": [
   {"data": {"name": "fttL"}, "mark": {"type": "line", "color": "#56B4E9", "strokeWidth": 1, "clip": true},
    "encoding": {
     "x": {"field": "x", "type": "quantitative", "scale": {"domain": [5.75, 115.65], "nice": false, "zero": false},
      "axis": {"orient": "bottom", "values": [6,8,10,12,14,16,18,20,22,24,26,28,30,32,34,36,38,40,42,44,46,48,50,52,54,56,58,60,62,64,66,68,70,72,74,76,78,80,82,84,86,88,90,92,94,96,98,100,102,104,106,108,110,112,114], "labelExpr": "datum.value % 10 === 0 ? datum.label : ''", "labelFlush": false, "labelOverlap": false, "labelPadding": 17, "title": "Π (s)", "titlePadding": 4, "tickSize": {"condition": {"test": "datum.value % 10 === 0", "value": -6}, "value": -3}}},
     "y": {"field": "y", "type": "quantitative", "scale": {"domain": [-0.046, 1.097], "nice": false, "zero": false},
      "axis": {"orient": "left", "values": [0,0.1,0.2,0.3,0.4,0.5,0.6,0.7,0.8,0.9,1], "labelExpr": "abs(datum.value * 2 - round(datum.value * 2)) < 0.001 ? '' + datum.value : ''", "labelOverlap": false, "labelPadding": 17, "tickSize": {"condition": {"test": "abs(datum.value * 2 - round(datum.value * 2)) < 0.001", "value": -6}, "value": -3}, "title": "|A|² (normalized)", "titleX": -72, "titleAngle": 270, "titleBaseline": "middle"}}
    }},
   {"data": {"values": [{"x": 110.75, "y": 0.57, "t": "FTT"}]}, "mark": {"type": "text", "align": "right", "baseline": "middle", "fontSize": 16, "font": "Liberation Serif", "color": "black"},
    "encoding": {
     "x": {"field": "x", "type": "quantitative", "axis": {"orient": "top", "values": [6,8,10,12,14,16,18,20,22,24,26,28,30,32,34,36,38,40,42,44,46,48,50,52,54,56,58,60,62,64,66,68,70,72,74,76,78,80,82,84,86,88,90,92,94,96,98,100,102,104,106,108,110,112,114], "labels": false, "title": null, "maxExtent": 0, "tickSize": {"condition": {"test": "datum.value % 10 === 0", "value": -6}, "value": -3}}},
     "y": {"field": "y", "type": "quantitative", "axis": null},
     "text": {"field": "t"}
    }}
  ]}
 ]},
 {"spacing": 0, "bounds": "flush", "vconcat": [
  {"width": 314, "height": 190, "resolve": {"axis": {"x": "independent", "y": "independent"}}, "layer": [
   {"data": {"name": "kstR"}, "mark": {"type": "line", "color": "#56B4E9", "strokeWidth": 1, "clip": true},
    "encoding": {
     "x": {"field": "x", "type": "quantitative", "scale": {"domain": [5.75, 115.65], "nice": false, "zero": false},
      "axis": {"orient": "bottom", "values": [6,8,10,12,14,16,18,20,22,24,26,28,30,32,34,36,38,40,42,44,46,48,50,52,54,56,58,60,62,64,66,68,70,72,74,76,78,80,82,84,86,88,90,92,94,96,98,100,102,104,106,108,110,112,114], "labels": false, "title": null, "maxExtent": 0, "tickSize": {"condition": {"test": "datum.value % 10 === 0", "value": -6}, "value": -3}}},
     "y": {"field": "y", "type": "quantitative", "scale": {"domain": [-3.9, 0.23], "nice": false, "zero": false},
      "axis": {"orient": "right", "values": [-3.5,-3,-2.5,-2,-1.5,-1,-0.5,0], "labelExpr": "datum.value % 1 === 0 ? (datum.value < 0 ? '-' + abs(datum.value) : '0') : ''", "labelOverlap": false, "labelPadding": 13, "tickSize": {"condition": {"test": "datum.value % 1 === 0", "value": -6}, "value": -3}, "title": "log Q", "titleX": 73, "titleAngle": 270, "titleBaseline": "middle"}}
    }},
   {"data": {"name": "rules"}, "mark": {"type": "rule", "color": "#222222", "strokeWidth": 1, "strokeDash": [2, 2]},
    "encoding": {"x": {"field": "x", "type": "quantitative", "axis": null}}},
   {"data": {"values": [{"x": 17.9, "y": -3.5, "t": "Π/5"}, {"x": 113.0, "y": -3.5, "t": "Π = 93.5 s"}]}, "mark": {"type": "text", "align": "right", "baseline": "middle", "fontSize": 11, "font": "Liberation Serif", "color": "black"},
    "encoding": {"x": {"field": "x", "type": "quantitative", "axis": null}, "y": {"field": "y", "type": "quantitative", "axis": null}, "text": {"field": "t"}}},
   {"data": {"values": [{"x": 24.2, "y": -3.5, "t": "Π/4"}, {"x": 32.0, "y": -3.5, "t": "Π/3"}, {"x": 47.6, "y": -3.5, "t": "Π/2"}]}, "mark": {"type": "text", "align": "left", "baseline": "middle", "fontSize": 11, "font": "Liberation Serif", "color": "black"},
    "encoding": {"x": {"field": "x", "type": "quantitative", "axis": null}, "y": {"field": "y", "type": "quantitative", "axis": null}, "text": {"field": "t"}}},
   {"data": {"values": [{"x": 112.0, "y": -2.05, "t": "KST"}]}, "mark": {"type": "text", "align": "right", "baseline": "middle", "fontSize": 16, "font": "Liberation Serif", "color": "black"},
    "encoding": {
     "x": {"field": "x", "type": "quantitative", "axis": {"orient": "top", "values": [6,8,10,12,14,16,18,20,22,24,26,28,30,32,34,36,38,40,42,44,46,48,50,52,54,56,58,60,62,64,66,68,70,72,74,76,78,80,82,84,86,88,90,92,94,96,98,100,102,104,106,108,110,112,114], "labels": false, "title": null, "maxExtent": 0, "tickSize": {"condition": {"test": "datum.value % 10 === 0", "value": -6}, "value": -3}}},
     "y": {"field": "y", "type": "quantitative", "axis": null},
     "text": {"field": "t"}
    }}
  ]},
  {"width": 314, "height": 190, "resolve": {"axis": {"x": "independent", "y": "independent"}}, "layer": [
   {"data": {"name": "ivtR"}, "mark": {"type": "line", "color": "#56B4E9", "strokeWidth": 1, "clip": true},
    "encoding": {
     "x": {"field": "x", "type": "quantitative", "scale": {"domain": [5.75, 115.65], "nice": false, "zero": false},
      "axis": {"orient": "bottom", "values": [6,8,10,12,14,16,18,20,22,24,26,28,30,32,34,36,38,40,42,44,46,48,50,52,54,56,58,60,62,64,66,68,70,72,74,76,78,80,82,84,86,88,90,92,94,96,98,100,102,104,106,108,110,112,114], "labels": false, "title": null, "maxExtent": 0, "tickSize": {"condition": {"test": "datum.value % 10 === 0", "value": -6}, "value": -3}}},
     "y": {"field": "y", "type": "quantitative", "scale": {"domain": [-1040, 15076], "nice": false, "zero": false},
      "axis": {"orient": "right", "values": [0,1000,2000,3000,4000,5000,6000,7000,8000,9000,10000,11000,12000,13000,14000], "labelExpr": "datum.value % 4000 === 0 ? '' + datum.value : ''", "labelOverlap": false, "labelPadding": 13, "tickSize": {"condition": {"test": "datum.value % 4000 === 0", "value": -6}, "value": -3}, "title": "Inverse variance", "titleX": 73, "titleAngle": 270, "titleBaseline": "middle"}}
    }},
   {"data": {"name": "rules"}, "mark": {"type": "rule", "color": "#222222", "strokeWidth": 1, "strokeDash": [2, 2]},
    "encoding": {"x": {"field": "x", "type": "quantitative", "axis": null}}},
   {"data": {"values": [{"x": 17.9, "y": 13580, "t": "Π/5"}, {"x": 113.0, "y": 13580, "t": "Π = 93.4 s"}]}, "mark": {"type": "text", "align": "right", "baseline": "middle", "fontSize": 11, "font": "Liberation Serif", "color": "black"},
    "encoding": {"x": {"field": "x", "type": "quantitative", "axis": null}, "y": {"field": "y", "type": "quantitative", "axis": null}, "text": {"field": "t"}}},
   {"data": {"values": [{"x": 24.2, "y": 13580, "t": "Π/4"}, {"x": 32.0, "y": 13580, "t": "Π/3"}, {"x": 47.6, "y": 13580, "t": "Π/2"}]}, "mark": {"type": "text", "align": "left", "baseline": "middle", "fontSize": 11, "font": "Liberation Serif", "color": "black"},
    "encoding": {"x": {"field": "x", "type": "quantitative", "axis": null}, "y": {"field": "y", "type": "quantitative", "axis": null}, "text": {"field": "t"}}},
   {"data": {"values": [{"x": 110.65, "y": 8000, "t": "IVT"}]}, "mark": {"type": "text", "align": "right", "baseline": "middle", "fontSize": 16, "font": "Liberation Serif", "color": "black"},
    "encoding": {
     "x": {"field": "x", "type": "quantitative", "axis": {"orient": "top", "values": [6,8,10,12,14,16,18,20,22,24,26,28,30,32,34,36,38,40,42,44,46,48,50,52,54,56,58,60,62,64,66,68,70,72,74,76,78,80,82,84,86,88,90,92,94,96,98,100,102,104,106,108,110,112,114], "labels": false, "title": null, "maxExtent": 0, "tickSize": {"condition": {"test": "datum.value % 10 === 0", "value": -6}, "value": -3}}},
     "y": {"field": "y", "type": "quantitative", "axis": null},
     "text": {"field": "t"}
    }}
  ]},
  {"width": 314, "height": 190, "resolve": {"axis": {"x": "independent", "y": "independent"}}, "layer": [
   {"data": {"name": "fttR"}, "mark": {"type": "line", "color": "#56B4E9", "strokeWidth": 1, "clip": true},
    "encoding": {
     "x": {"field": "x", "type": "quantitative", "scale": {"domain": [5.75, 115.65], "nice": false, "zero": false},
      "axis": {"orient": "bottom", "values": [6,8,10,12,14,16,18,20,22,24,26,28,30,32,34,36,38,40,42,44,46,48,50,52,54,56,58,60,62,64,66,68,70,72,74,76,78,80,82,84,86,88,90,92,94,96,98,100,102,104,106,108,110,112,114], "labelExpr": "datum.value % 10 === 0 ? datum.label : ''", "labelFlush": false, "labelOverlap": false, "labelPadding": 17, "title": "Π (s)", "titlePadding": 4, "tickSize": {"condition": {"test": "datum.value % 10 === 0", "value": -6}, "value": -3}}},
     "y": {"field": "y", "type": "quantitative", "scale": {"domain": [-0.046, 1.097], "nice": false, "zero": false},
      "axis": {"orient": "right", "values": [0,0.1,0.2,0.3,0.4,0.5,0.6,0.7,0.8,0.9,1], "labelExpr": "abs(datum.value * 2 - round(datum.value * 2)) < 0.001 ? '' + datum.value : ''", "labelOverlap": false, "labelPadding": 13, "tickSize": {"condition": {"test": "abs(datum.value * 2 - round(datum.value * 2)) < 0.001", "value": -6}, "value": -3}, "title": "|A|² (normalized)", "titleX": 73, "titleAngle": 270, "titleBaseline": "middle"}}
    }},
   {"data": {"name": "rules"}, "mark": {"type": "rule", "color": "#222222", "strokeWidth": 1, "strokeDash": [2, 2]},
    "encoding": {"x": {"field": "x", "type": "quantitative", "axis": null}}},
   {"data": {"values": [{"x": 17.9, "y": 0.976, "t": "Π/5"}, {"x": 113.0, "y": 0.976, "t": "Π = 93.4 s"}]}, "mark": {"type": "text", "align": "right", "baseline": "middle", "fontSize": 11, "font": "Liberation Serif", "color": "black"},
    "encoding": {"x": {"field": "x", "type": "quantitative", "axis": null}, "y": {"field": "y", "type": "quantitative", "axis": null}, "text": {"field": "t"}}},
   {"data": {"values": [{"x": 24.2, "y": 0.976, "t": "Π/4"}, {"x": 32.0, "y": 0.976, "t": "Π/3"}, {"x": 47.6, "y": 0.976, "t": "Π/2"}]}, "mark": {"type": "text", "align": "left", "baseline": "middle", "fontSize": 11, "font": "Liberation Serif", "color": "black"},
    "encoding": {"x": {"field": "x", "type": "quantitative", "axis": null}, "y": {"field": "y", "type": "quantitative", "axis": null}, "text": {"field": "t"}}},
   {"data": {"values": [{"x": 111.8, "y": 0.57, "t": "FTT"}]}, "mark": {"type": "text", "align": "right", "baseline": "middle", "fontSize": 16, "font": "Liberation Serif", "color": "black"},
    "encoding": {
     "x": {"field": "x", "type": "quantitative", "axis": {"orient": "top", "values": [6,8,10,12,14,16,18,20,22,24,26,28,30,32,34,36,38,40,42,44,46,48,50,52,54,56,58,60,62,64,66,68,70,72,74,76,78,80,82,84,86,88,90,92,94,96,98,100,102,104,106,108,110,112,114], "labels": false, "title": null, "maxExtent": 0, "tickSize": {"condition": {"test": "datum.value % 10 === 0", "value": -6}, "value": -3}}},
     "y": {"field": "y", "type": "quantitative", "axis": null},
     "text": {"field": "t"}
    }}
  ]}
 ]}
]
}
